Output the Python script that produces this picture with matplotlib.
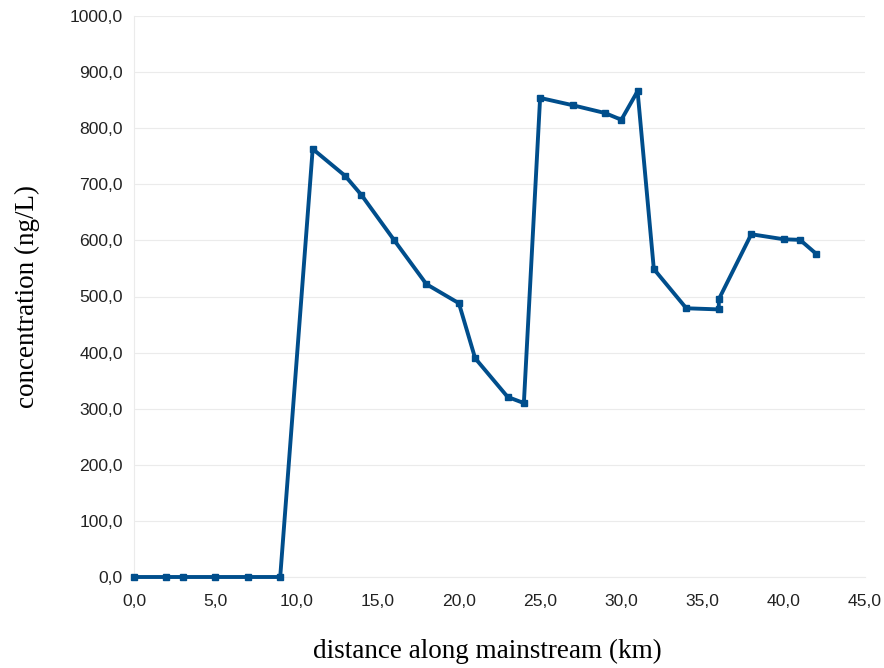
import matplotlib
matplotlib.use("Agg")
from matplotlib import pyplot as plt
from matplotlib.ticker import FuncFormatter, MultipleLocator

# distance (km) and concentration (ng/L)
distance = [0, 2, 3, 5, 7, 9, 11, 13, 14, 16, 18, 20, 21, 23, 24, 25, 27, 29,
            30, 31, 32, 34, 36, 36, 38, 40, 41, 42]
concentration = [0, 0, 0, 0, 0, 0, 763, 715, 681, 601, 522, 488, 390, 321, 310,
                 854, 841, 827, 815, 866, 549, 479, 477, 495, 611, 602, 601, 576]

fig = plt.figure(figsize=(8.84, 6.68), dpi=100)
ax = fig.add_axes([134 / 884, 1 - 577 / 668, (865 - 134) / 884, (577 - 16) / 668])

ax.plot(distance, concentration, color="#004e8c", linewidth=2.8,
        marker="s", markersize=5, clip_on=False, zorder=3)

ax.set_xlim(0, 45)
ax.set_ylim(0, 1000)
ax.xaxis.set_major_locator(MultipleLocator(5))
ax.yaxis.set_major_locator(MultipleLocator(100))
fmt = FuncFormatter(lambda v, p: f"{v:.1f}".replace(".", ","))
ax.xaxis.set_major_formatter(fmt)
ax.yaxis.set_major_formatter(fmt)

ax.grid(axis="y", color="#ebebeb", linewidth=0.8)
ax.set_axisbelow(True)
for s in ["top", "right"]:
    ax.spines[s].set_visible(False)
for s in ["left", "bottom"]:
    ax.spines[s].set_color("#ebebeb")
ax.tick_params(length=0, labelcolor="#222222", labelsize=12.6)
ax.tick_params(axis="x", pad=12)
ax.tick_params(axis="y", pad=8)
for lbl in ax.get_xticklabels() + ax.get_yticklabels():
    lbl.set_fontfamily("Liberation Sans")

ax.set_xlabel("distance along mainstream (km)", fontsize=19.5,
              fontfamily="Liberation Serif")
ax.set_ylabel("concentration (ng/L)", fontsize=19.5,
              fontfamily="Liberation Serif")
# label positions in axes coordinates
ax.xaxis.set_label_coords((487 - 134) / 731, -(651 - 577) / 561)
ax.yaxis.set_label_coords(-(134 - 27) / 731, (577 - 297) / 561)
ax.xaxis.label.set_va("center")
ax.yaxis.label.set_va("center")

fig.savefig("out.png", dpi=100)
